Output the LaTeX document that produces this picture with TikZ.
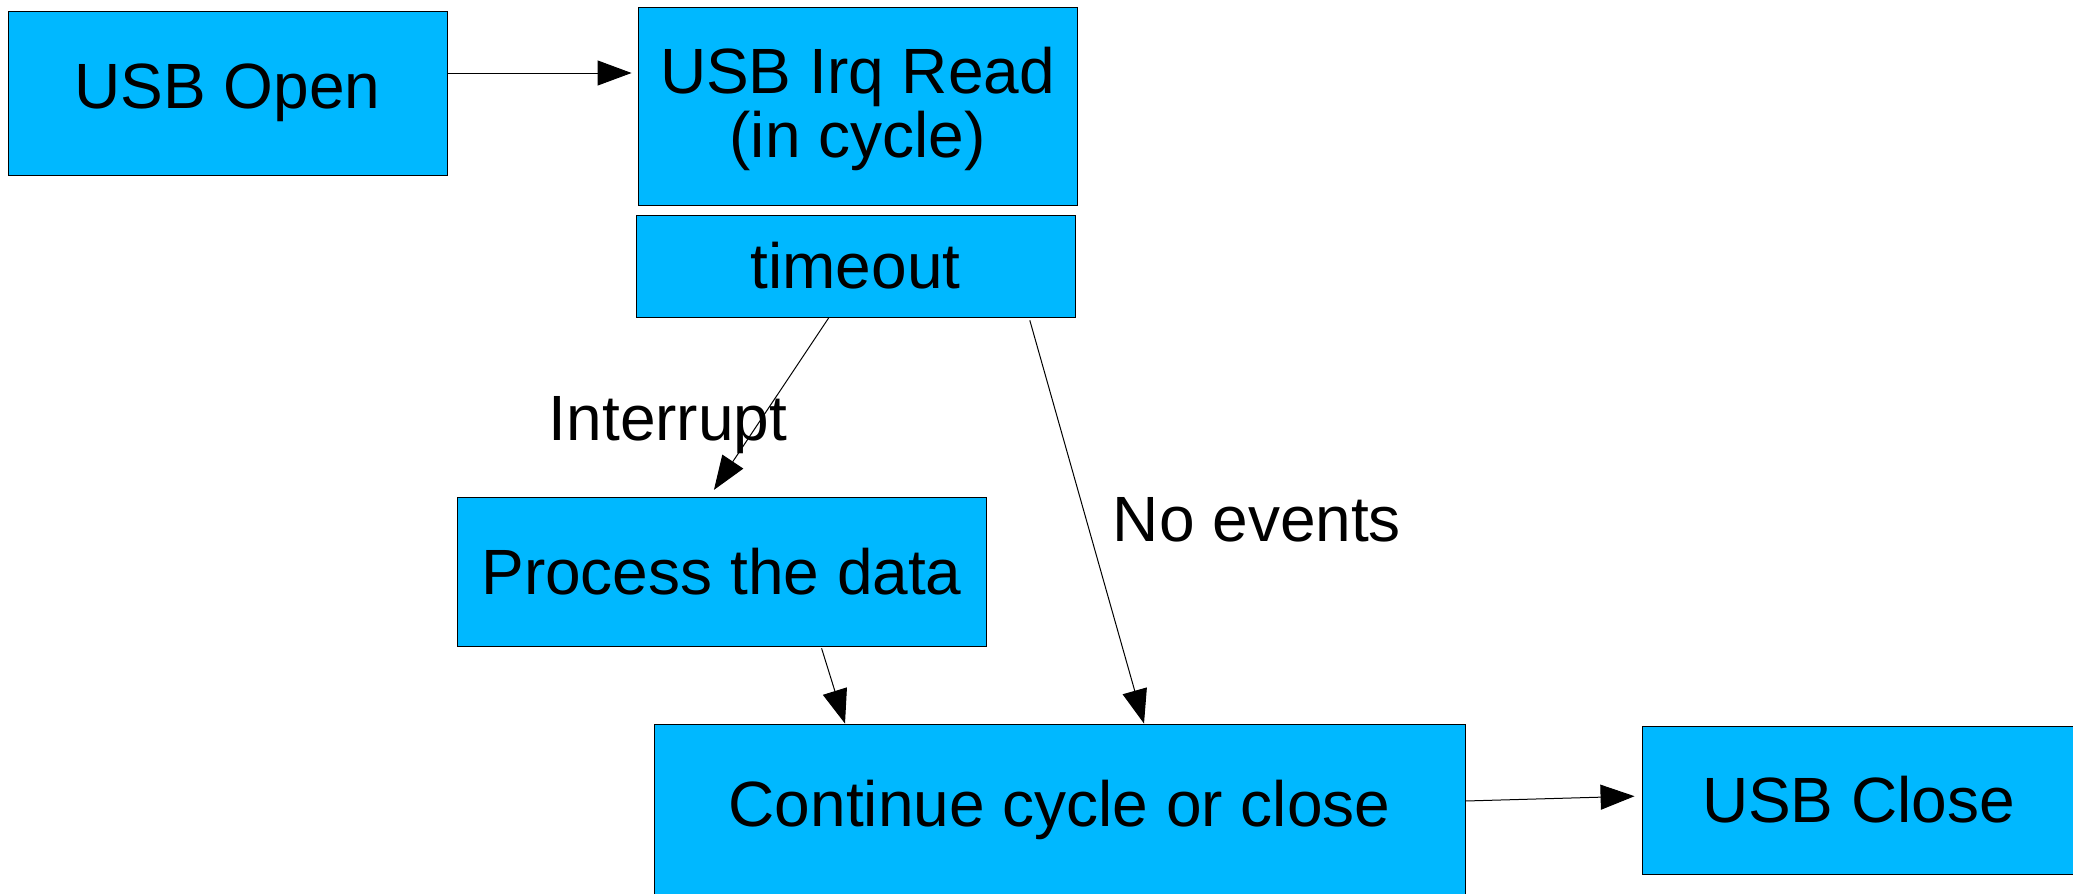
\documentclass[tikz,border=0pt]{standalone}
\usepackage{fontspec}
\setmainfont{Liberation Sans}
\usetikzlibrary{arrows.meta}
\definecolor{boxblue}{RGB}{0,184,255}
\begin{document}
\begin{tikzpicture}[x=1pt,y=1pt,
  box/.style={draw=black,line width=0.9pt,fill=boxblue,rectangle,inner sep=0pt,align=center,
    font=\fontsize{64}{66}\selectfont},
  conn/.style={draw=black,line width=1pt,-{Triangle[length=34pt,width=25pt]}},
  lbl/.style={inner sep=0pt,anchor=base,font=\fontsize{64}{66}\selectfont}]
\useasboundingbox (0,0) rectangle (2073,-894);
\node[box,minimum width=439pt,minimum height=198pt] (irq) at (857.5,-106) {\raisebox{-6pt}[\height][\depth]{\begin{tabular}{@{}c@{}}USB Irq Read\\[-2pt](in cycle)\end{tabular}}};
\node[box,minimum width=439pt,minimum height=164pt] (open) at (227.5,-93) {USB Open};
\node[box,minimum width=439pt,minimum height=102pt] (tmo) at (855.5,-266) {timeout};
\node[box,minimum width=529pt,minimum height=149pt] (proc) at (721.5,-571.5) {Process the data};
\node[box,minimum width=811pt,minimum height=172pt] (cont) at (1059.5,-810) {Continue cycle or close};
\node[box,minimum width=433pt,minimum height=148pt] (close) at (1858.5,-800) {USB Close};
\node[lbl] (intr) at (668,-440) {Interrupt};
\node[lbl] (noev) at (1257,-541) {No events};
\draw[conn,shorten >=6pt] ([yshift=20pt]open.east) -- ([yshift=33pt]irq.west);
\draw[conn,shorten >=8pt] ([xshift=-26.5pt]tmo.south) -- ([xshift=-12pt]proc.north);
\draw[conn,shorten <=3pt] ([xshift=173.5pt]tmo.south) -- ([xshift=84.5pt]cont.north);
\draw[conn,shorten <=2pt] ([xshift=99.5pt]proc.south) -- ([xshift=-214.5pt]cont.north);
\draw[conn,shorten >=7pt] ([yshift=9pt]cont.east) -- ([yshift=4pt]close.west);
\end{tikzpicture}
\end{document}
